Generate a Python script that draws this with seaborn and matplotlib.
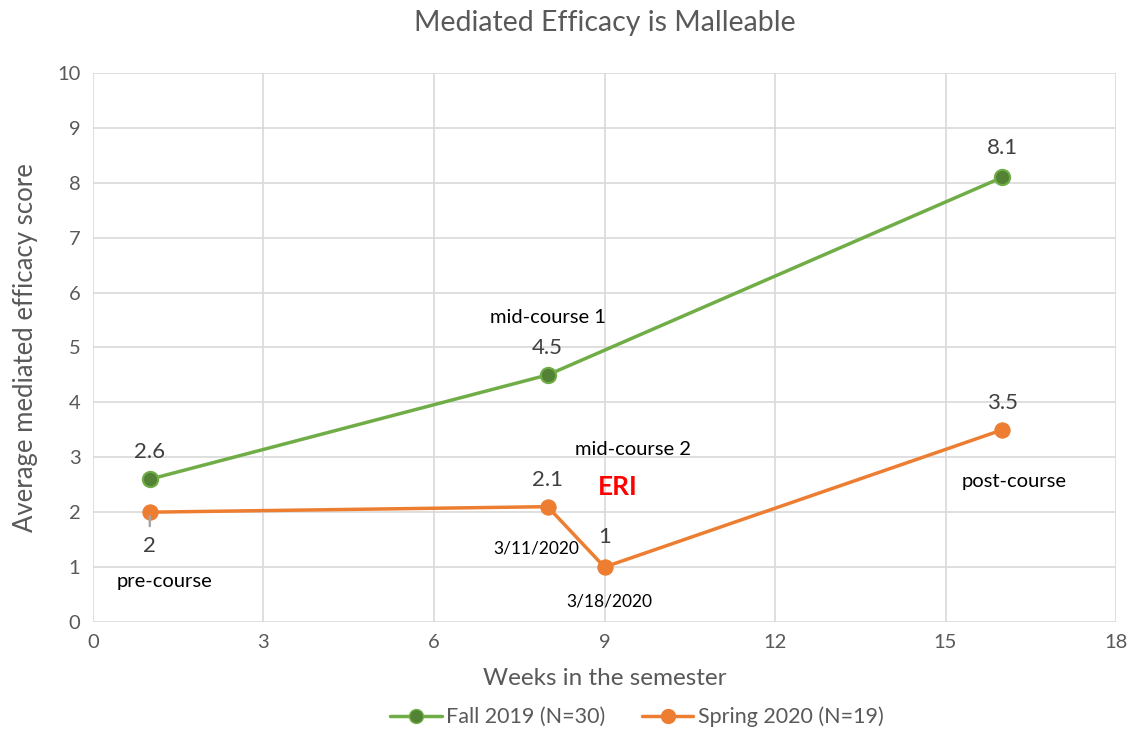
import matplotlib
matplotlib.use("Agg")
import matplotlib.pyplot as plt
import seaborn as sns
import pandas as pd
from matplotlib.lines import Line2D

# Data
fall_weeks = [1, 8, 16]
fall_scores = [2.6, 4.5, 8.1]
spring_weeks = [1, 8, 9, 16]
spring_scores = [2.0, 2.1, 1.0, 3.5]
series_names = ["Fall 2019 (N=30)", "Spring 2020 (N=19)"]
x_ticks = [0, 3, 6, 9, 12, 15, 18]
y_ticks = [0, 1, 2, 3, 4, 5, 6, 7, 8, 9, 10]

sns.set_style("white")
plt.rcParams['font.family'] = ['Lato', 'DejaVu Sans']

df = pd.concat([
    pd.DataFrame({"week": fall_weeks, "score": fall_scores, "series": series_names[0]}),
    pd.DataFrame({"week": spring_weeks, "score": spring_scores, "series": series_names[1]}),
])

green_line = "#70AD47"
green_mark = "#548235"
orange = "#ED7D31"
text_col = "#404040"

fig = plt.figure(figsize=(11.35, 7.3), dpi=100)
ax = fig.add_axes([0.0819, 0.148, 0.9014, 0.752])

sns.lineplot(data=df[df.series == series_names[0]], x="week", y="score", ax=ax,
             color=green_line, linewidth=2.5, marker="o", markersize=11,
             markerfacecolor=green_mark, markeredgecolor=green_line, markeredgewidth=1.5,
             legend=False)
sns.lineplot(data=df[df.series == series_names[1]], x="week", y="score", ax=ax,
             color=orange, linewidth=2.5, marker="o", markersize=11,
             markerfacecolor=orange, markeredgecolor=orange, legend=False)

ax.set_xlim(0, 18)
ax.set_ylim(0, 10)
ax.set_xticks(x_ticks)
ax.set_yticks(y_ticks)
ax.grid(True, color="#D9D9D9", linewidth=1.2)
for s in ax.spines.values():
    s.set_visible(False)
ax.tick_params(axis="both", length=0, labelsize=14.5, labelcolor="#595959", pad=9)
ax.set_xlabel("Weeks in the semester", fontsize=17.5, color="#595959", labelpad=12)
ax.set_ylabel("Average mediated efficacy score", fontsize=18.5, color="#595959", labelpad=14)
ax.set_title("Mediated Efficacy is Malleable", fontsize=20.5, color="#595959", pad=30)

# Data labels
lab = dict(fontsize=16, color=text_col, ha="center", va="center")
ax.annotate("2.6", (1, 2.6), xytext=(0, 19.5), textcoords="offset points", **lab)
ax.annotate("4.5", (8, 4.5), xytext=(0, 19.5), textcoords="offset points", **lab)
ax.annotate("8.1", (16, 8.1), xytext=(0, 21), textcoords="offset points", **lab)
ax.annotate("2.1", (8, 2.1), xytext=(0, 19.5), textcoords="offset points", **lab)
ax.annotate("1", (9, 1.0), xytext=(0, 21.5), textcoords="offset points", **lab)
ax.annotate("3.5", (16, 3.5), xytext=(0, 19.5), textcoords="offset points", **lab)
ax.annotate("2", (1, 2.0), xytext=(0, -24), textcoords="offset points", **lab)
# leader line from the "2" label to its point
ax.annotate("", xy=(1, 2.0), xytext=(0, -10), textcoords="offset points",
            arrowprops=dict(arrowstyle="-", color="#A6A6A6", lw=1.8, shrinkA=0, shrinkB=3))

# Point descriptions
note = dict(fontsize=14.5, color="black", ha="center", va="center")
ax.text(1.25, 0.73, "pre-course", **note)
ax.text(8.0, 5.55, "mid-course 1", **note)
ax.text(9.5, 3.15, "mid-course 2", **note)
ax.text(16.2, 2.55, "post-course", **note)
ax.text(7.8, 1.33, "3/11/2020", fontsize=12.5, color="black", ha="center", va="center")
ax.text(9.08, 0.38, "3/18/2020", fontsize=12.5, color="black", ha="center", va="center")
ax.text(9.23, 2.46, "ERI", fontsize=19, color="#FF0000", fontweight="bold", ha="center", va="center")

handles = [
    Line2D([], [], color=green_line, lw=2.5, marker="o", markersize=10,
           markerfacecolor=green_mark, markeredgecolor=green_line),
    Line2D([], [], color=orange, lw=2.5, marker="o", markersize=10,
           markerfacecolor=orange, markeredgecolor=orange),
]
fig.legend(handles, series_names, loc="center", bbox_to_anchor=(0.561, 0.018),
           ncol=2, frameon=False, fontsize=15.5, handlelength=2.4, columnspacing=1.7,
           handletextpad=0.2, labelcolor="#595959")

fig.savefig("out.png", dpi=100)
